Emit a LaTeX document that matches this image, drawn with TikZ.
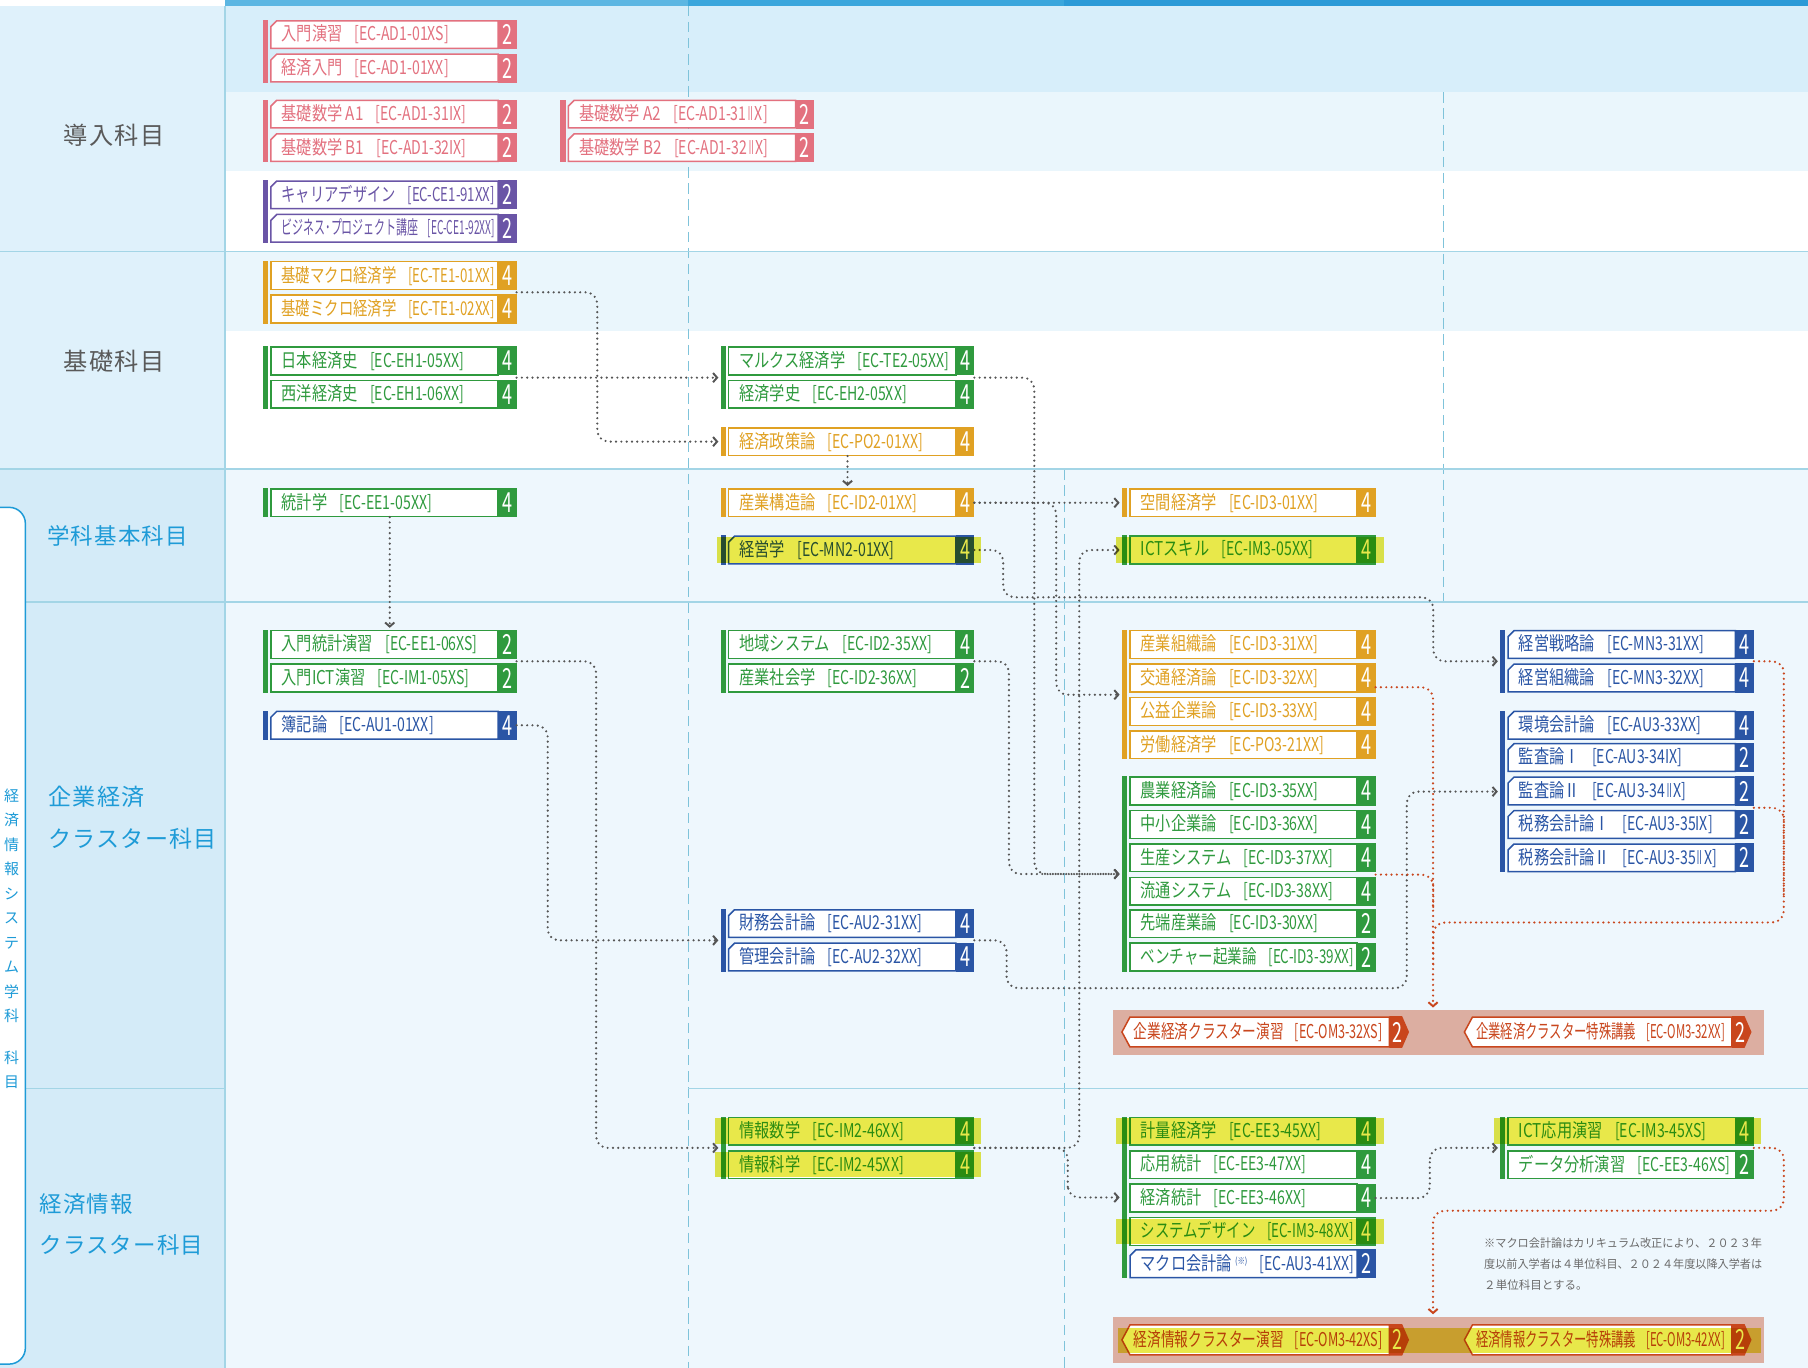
\documentclass[tikz,border=0pt]{standalone}
\usepackage{fontspec}
\usepackage{graphicx}
\usetikzlibrary{arrows.meta,calc}
\setmainfont{Noto Sans CJK JP}
\newfontfamily\labf[FakeStretch=0.8]{Noto Sans CJK JP}
\newfontfamily\codef[FakeStretch=0.74]{Noto Sans CJK JP}
\newfontfamily\numf[FakeStretch=0.65]{Noto Sans CJK JP}
\newfontfamily\sidef[LetterSpace=5]{Noto Sans CJK JP}
\newfontfamily\notef{Noto Sans CJK JP}
\definecolor{cpink}{HTML}{E3717F}
\definecolor{cpurple}{HTML}{6A55A6}
\definecolor{corange}{HTML}{E0A123}
\definecolor{cgreen}{HTML}{2F9A3E}
\definecolor{cblue}{HTML}{2A55A5}
\definecolor{cred}{HTML}{C9461D}
\definecolor{csalmon}{HTML}{DCAEA1}
\definecolor{chl}{HTML}{E8E84A}
\definecolor{cline}{HTML}{A3D5E6}
\definecolor{cdash}{HTML}{7FC3DA}
\definecolor{clabel}{HTML}{1E9BD7}
\definecolor{cgray}{HTML}{5A5A5A}
\definecolor{cnote}{HTML}{6A6A6A}
\definecolor{cconn}{HTML}{555555}
\definecolor{bgA}{HTML}{DFF1FB}
\definecolor{bgB}{HTML}{D4EBF8}
\definecolor{bgC}{HTML}{D7EEFA}
\definecolor{bgD}{HTML}{EAF6FC}
\definecolor{bgE}{HTML}{EEF7FD}
\definecolor{topA}{HTML}{5CB6E2}
\definecolor{topB}{HTML}{3AA6DC}
\definecolor{topC}{HTML}{2B9AD7}
\newsavebox\fitbox
\newcommand\fitt[2]{\sbox\fitbox{#2}\ifdim\wd\fitbox>#1\relax\resizebox{#1}{\height}{\usebox\fitbox}\else\usebox\fitbox\fi}
\newcommand\gp{\hspace{0.65em}\codef}
\newcommand\rtwo{\scalebox{0.6}[1]{Ⅱ}}
\newcommand\sups{\raisebox{5pt}{\fontsize{8}{8}\selectfont(※)}}
\newcommand\crs[7]{%
  \node[inv,anchor=west] (#1) at ({#2-7},#3) {};%
  \ifnum#5=1\relax
    \filldraw[fill=white,draw=#4,line width=1.3pt] ({#2},{#3+12}) -- ({#2},{#3-7}) -- ({#2+5},{#3-12}) -- ({#2+197},{#3-12}) -- ({#2+197},{#3+12}) -- cycle;%
  \else
    \filldraw[fill=white,draw=#4,line width=1.3pt] ({#2},{#3-12}) rectangle ({#2+197},{#3+12});%
  \fi
  \fill[#4] ({#2+197},{#3-12.6}) rectangle ({#2+213},{#3+12.6});%
  \node[anchor=west,text=#4,font=\labf\fontsize{16.5}{16.5}\selectfont,inner sep=0pt] (#1-t) at ({#2+9},#3) {\fitt{185pt}{#6}};%
  \node[text=white,font=\numf\fontsize{24}{24}\selectfont,inner sep=0pt] (#1-n) at ({#2+205},#3) {#7};%
}
\newcommand\gbar[4]{\fill[#4] ({#1-7},{#2-12.6}) rectangle ({#1-2.5},{#3+12.6});}
\newcommand\clu[5]{%
  \node[cinv,anchor=west] (#1) at (#2,#3) {};%
  \filldraw[fill=white,draw=cred,line width=1.3pt] ({#2+7},{#3-13}) -- (#2,#3) -- ({#2+7},{#3+13}) -- ({#2+232},{#3+13}) -- ({#2+232},{#3-13}) -- cycle;%
  \fill[cred] ({#2+232},{#3-13.7}) -- ({#2+243},{#3-13.7}) -- ({#2+249},#3) -- ({#2+243},{#3+13.7}) -- ({#2+232},{#3+13.7}) -- cycle;%
  \node[anchor=west,text=cred,font=\labf\fontsize{16.5}{16.5}\selectfont,inner sep=0pt] (#1-t) at ({#2+10},#3) {\fitt{216pt}{#4}};%
  \node[text=white,font=\numf\fontsize{24}{24}\selectfont,inner sep=0pt] (#1-n) at ({#2+239},#3) {#5};%
}
\begin{document}
\begin{tikzpicture}[x=1pt,y=-1pt,
 inv/.style={minimum width=220pt,minimum height=25pt,inner sep=0pt,outer sep=0pt},
 cinv/.style={minimum width=249pt,minimum height=27pt,inner sep=0pt,outer sep=0pt},
 conn/.style={draw=cconn,line width=2.1pt,dash pattern=on 0pt off 4.6pt,line cap=round,rounded corners=10pt},
 arr/.style={-{Straight Barb[length=3.5pt,width=8pt,line width=1.7pt]},shorten >=2pt},
 rconn/.style={conn,draw=cred},
 gridl/.style={draw=cline,line width=1.5pt},
 dashl/.style={draw=cdash,line width=1pt,dash pattern=on 9pt off 5pt},
]
\useasboundingbox (0,0) rectangle (1568,1186);
% backgrounds
\fill[white] (0,0) rectangle (1568,1186);
\fill[bgA] (0,5) rectangle (195,407);
\fill[bgB] (0,407) rectangle (195,1186);
\fill[bgC] (195,5) rectangle (1568,80);
\fill[bgD] (195,80) rectangle (1568,148);
\fill[bgD] (195,218) rectangle (1568,287);
\fill[bgE] (195,407) rectangle (1568,1186);
\fill[topA] (195,0) rectangle (597,5);
\fill[topB] (597,0) rectangle (923,5);
\fill[topC] (923,0) rectangle (1568,5);
% dashed column guides
\draw[dashl] (597,5) -- (597,1186);
\draw[dashl] (1252,80) -- (1252,522);
\draw[dashl] (923,407) -- (923,1186);
% grid lines
\draw[gridl] (195,5) -- (195,1186);
\draw[gridl] (0,218) -- (1568,218);
\draw[gridl] (0,407) -- (1568,407);
\draw[gridl] (22,522) -- (1568,522);
\draw[gridl] (22,944) -- (195,944);
\draw[gridl] (597,944) -- (1568,944);
% side bracket
\draw[fill=white,draw=clabel,line width=1.3pt,rounded corners=14pt] (-20,440) rectangle (22,1183);
\node[font=\fontsize{13}{21.2}\selectfont,text=clabel,align=center,anchor=north,inner sep=0pt] (vtext) at (10,684) {経\\済\\情\\報\\シ\\ス\\テ\\ム\\学\\科\\[15pt]科\\目};
% row labels
\node[font=\sidef\fontsize{21}{21}\selectfont,text=cgray] (ldonyu) at (99,117) {導入科目};
\node[font=\sidef\fontsize{21}{21}\selectfont,text=cgray] (lkiso) at (99,313) {基礎科目};
\node[font=\sidef\fontsize{19.5}{19.5}\selectfont,text=clabel] (lgaku) at (102,465) {学科基本科目};
\node[anchor=west,align=left,font=\sidef\fontsize{20}{37}\selectfont,text=clabel,inner sep=0pt] (lkigyo) at (42,709) {企業経済\\クラスター科目};
\node[anchor=west,align=left,font=\sidef\fontsize{19.5}{36}\selectfont,text=clabel,inner sep=0pt] (ljoho) at (34,1062) {経済情報\\クラスター科目};
% ---------- column 1
\crs{nyuen}{235}{30}{cpink}{1}{入門演習\gp[EC-AD1-01XS]}{2}
\crs{keinyu}{235}{59}{cpink}{1}{経済入門\gp[EC-AD1-01XX]}{2}
\gbar{235}{30}{59}{cpink}
\crs{suA1}{235}{99}{cpink}{1}{基礎数学 A1\gp[EC-AD1-31IX]}{2}
\crs{suB1}{235}{128}{cpink}{1}{基礎数学 B1\gp[EC-AD1-32IX]}{2}
\gbar{235}{99}{128}{cpink}
\crs{career}{235}{169}{cpurple}{1}{キャリアデザイン\gp[EC-CE1-91XX]}{2}
\crs{biz}{235}{198}{cpurple}{1}{ビジネス･プロジェクト講座\gp[EC-CE1-92XX]}{2}
\gbar{235}{169}{198}{cpurple}
\crs{kmac}{235}{239}{corange}{0}{基礎マクロ経済学\gp[EC-TE1-01XX]}{4}
\crs{kmic}{235}{268}{corange}{0}{基礎ミクロ経済学\gp[EC-TE1-02XX]}{4}
\gbar{235}{239}{268}{corange}
\crs{nihon}{235}{313}{cgreen}{0}{日本経済史\gp[EC-EH1-05XX]}{4}
\crs{seiyo}{235}{342}{cgreen}{0}{西洋経済史\gp[EC-EH1-06XX]}{4}
\gbar{235}{313}{342}{cgreen}
\crs{toukei}{235}{436}{cgreen}{0}{統計学\gp[EC-EE1-05XX]}{4}
\gbar{235}{436}{436}{cgreen}
\crs{nyuto}{235}{559}{cgreen}{0}{入門統計演習\gp[EC-EE1-06XS]}{2}
\crs{nyuict}{235}{588}{cgreen}{0}{入門ICT演習\gp[EC-IM1-05XS]}{2}
\gbar{235}{559}{588}{cgreen}
\crs{boki}{235}{629}{cblue}{1}{簿記論\gp[EC-AU1-01XX]}{4}
\gbar{235}{629}{629}{cblue}
% ---------- column 1b
\crs{suA2}{493}{99}{cpink}{1}{基礎数学 A2\gp[EC-AD1-31\rtwo X]}{2}
\crs{suB2}{493}{128}{cpink}{1}{基礎数学 B2\gp[EC-AD1-32\rtwo X]}{2}
\gbar{493}{99}{128}{cpink}
% ---------- column 2
\crs{marx}{632}{313}{cgreen}{0}{マルクス経済学\gp[EC-TE2-05XX]}{4}
\crs{gakushi}{632}{342}{cgreen}{0}{経済学史\gp[EC-EH2-05XX]}{4}
\gbar{632}{313}{342}{cgreen}
\crs{seisaku}{632}{383}{corange}{0}{経済政策論\gp[EC-PO2-01XX]}{4}
\gbar{632}{383}{383}{corange}
\crs{sanko}{632}{436}{corange}{0}{産業構造論\gp[EC-ID2-01XX]}{4}
\gbar{632}{436}{436}{corange}
\crs{keiei}{632}{477}{cblue}{1}{経営学\gp[EC-MN2-01XX]}{4}
\gbar{632}{477}{477}{cblue}
\crs{chiiki}{632}{559}{cgreen}{0}{地域システム\gp[EC-ID2-35XX]}{4}
\crs{sansha}{632}{588}{cgreen}{0}{産業社会学\gp[EC-ID2-36XX]}{2}
\gbar{632}{559}{588}{cgreen}
\crs{zaimu}{632}{801}{cblue}{1}{財務会計論\gp[EC-AU2-31XX]}{4}
\crs{kanri}{632}{830}{cblue}{1}{管理会計論\gp[EC-AU2-32XX]}{4}
\gbar{632}{801}{830}{cblue}
\crs{johosu}{632}{981}{cgreen}{0}{情報数学\gp[EC-IM2-46XX]}{4}
\crs{johoka}{632}{1010}{cgreen}{0}{情報科学\gp[EC-IM2-45XX]}{4}
\gbar{632}{981}{1010}{cgreen}
% ---------- column 3
\crs{kukan}{980}{436}{corange}{0}{空間経済学\gp[EC-ID3-01XX]}{4}
\gbar{980}{436}{436}{corange}
\crs{ictsk}{980}{477}{cgreen}{0}{ICTスキル\gp[EC-IM3-05XX]}{4}
\gbar{980}{477}{477}{cgreen}
\crs{sosh}{980}{559}{corange}{0}{産業組織論\gp[EC-ID3-31XX]}{4}
\crs{kotsu}{980}{588}{corange}{0}{交通経済論\gp[EC-ID3-32XX]}{4}
\crs{koeki}{980}{617}{corange}{0}{公益企業論\gp[EC-ID3-33XX]}{4}
\crs{rodo}{980}{646}{corange}{0}{労働経済学\gp[EC-PO3-21XX]}{4}
\gbar{980}{559}{646}{corange}
\crs{nogyo}{980}{686}{cgreen}{0}{農業経済論\gp[EC-ID3-35XX]}{4}
\crs{chusho}{980}{715}{cgreen}{0}{中小企業論\gp[EC-ID3-36XX]}{4}
\crs{seisan}{980}{744}{cgreen}{0}{生産システム\gp[EC-ID3-37XX]}{4}
\crs{ryutsu}{980}{773}{cgreen}{0}{流通システム\gp[EC-ID3-38XX]}{4}
\crs{sentan}{980}{801}{cgreen}{0}{先端産業論\gp[EC-ID3-30XX]}{2}
\crs{venture}{980}{830}{cgreen}{0}{ベンチャー起業論\gp[EC-ID3-39XX]}{2}
\gbar{980}{686}{830}{cgreen}
\crs{keiryo}{980}{981}{cgreen}{0}{計量経済学\gp[EC-EE3-45XX]}{4}
\crs{oyo}{980}{1010}{cgreen}{0}{応用統計\gp[EC-EE3-47XX]}{4}
\crs{ktokei}{980}{1039}{cgreen}{0}{経済統計\gp[EC-EE3-46XX]}{4}
\crs{sysd}{980}{1068}{cgreen}{0}{システムデザイン\gp[EC-IM3-48XX]}{4}
\crs{macro}{980}{1096}{cblue}{1}{マクロ会計論\,\sups\gp[EC-AU3-41XX]}{2}
\gbar{980}{981}{1096}{cgreen}
% ---------- column 4
\crs{senryaku}{1308}{559}{cblue}{1}{経営戦略論\gp[EC-MN3-31XX]}{4}
\crs{soshikiron}{1308}{588}{cblue}{1}{経営組織論\gp[EC-MN3-32XX]}{4}
\gbar{1308}{559}{588}{cblue}
\crs{kankyo}{1308}{629}{cblue}{1}{環境会計論\gp[EC-AU3-33XX]}{4}
\crs{kansa1}{1308}{657}{cblue}{1}{監査論Ⅰ\gp[EC-AU3-34IX]}{2}
\crs{kansa2}{1308}{686}{cblue}{1}{監査論Ⅱ\gp[EC-AU3-34\rtwo X]}{2}
\crs{zeimu1}{1308}{715}{cblue}{1}{税務会計論Ⅰ\gp[EC-AU3-35IX]}{2}
\crs{zeimu2}{1308}{744}{cblue}{1}{税務会計論Ⅱ\gp[EC-AU3-35\rtwo X]}{2}
\gbar{1308}{629}{744}{cblue}
\crs{ictapp}{1308}{981}{cgreen}{0}{ICT応用演習\gp[EC-IM3-45XS]}{4}
\crs{data}{1308}{1010}{cgreen}{0}{データ分析演習\gp[EC-EE3-46XS]}{2}
\gbar{1308}{981}{1010}{cgreen}
% ---------- cluster rows
\node[fill=csalmon,minimum width=565pt,minimum height=39pt,inner sep=0pt] (clbg1) at (1247.5,895.5) {};
\clu{kclA}{973}{895}{企業経済クラスター演習\gp[EC-OM3-32XS]}{2}
\clu{kclB}{1270}{895}{企業経済クラスター特殊講義\gp[EC-OM3-32XX]}{2}
\node[fill=csalmon,minimum width=565pt,minimum height=40pt,inner sep=0pt] (clbg2) at (1247.5,1162) {};
\clu{jclA}{973}{1162}{経済情報クラスター演習\gp[EC-OM3-42XS]}{2}
\clu{jclB}{1270}{1162}{経済情報クラスター特殊講義\gp[EC-OM3-42XX]}{2}
\coordinate (cl1top) at ($(clbg1.north west)+(278,0)$);
\coordinate (cl2top) at ($(clbg2.north west)+(278,0)$);
% note
\node[anchor=north west,align=left,font=\notef\fontsize{10}{18.5}\selectfont,text=cnote,inner sep=0pt] (note) at (1287,1073) {\fitt{241pt}{※マクロ会計論はカリキュラム改正により、２０２３年}\\\fitt{241pt}{度以前入学者は４単位科目、２０２４年度以降入学者は}\\ ２単位科目とする。};
% ---------- connectors (gray)
\draw[conn,arr] ($(kmac.east)!.5!(kmic.east)$) -| (518,330) |- (seisaku.west);
\draw[conn,arr] ($(nihon.east)!.5!(seiyo.east)$) -- ($(marx.west)!.5!(gakushi.west)$);
\draw[conn,arr] (seisaku.south) -- (sanko.north);
\draw[conn,arr] (toukei.south) -- (nyuto.north);
\draw[conn,arr] ($(marx.east)!.5!(gakushi.east)$) -| (897,700) |- ($(nogyo.west)!.5!(venture.west)$);
\draw[conn,arr] ($(chiiki.east)!.5!(sansha.east)$) -| (875,700) |- ($(nogyo.west)!.5!(venture.west)$);
\draw[conn,arr] (sanko.east) -- (kukan.west);
\draw[conn,arr] (sanko.east) -| (916,520) |- ($(sosh.west)!.5!(rodo.west)$);
\draw[conn,arr] (keiei.east) -| (870,518) -| (1243,545) |- ($(senryaku.west)!.5!(soshikiron.west)$);
\draw[conn,arr] ($(johosu.east)!.5!(johoka.east)$) -| (936,700) |- (ictsk.west);
\draw[conn,arr] ($(johosu.east)!.5!(johoka.east)$) -| (926,1020) |- ($(keiryo.west)!.5!(macro.west)$);
\draw[conn,arr] ($(nyuto.east)!.5!(nyuict.east)$) -| (517,800) |- ($(johosu.west)!.5!(johoka.west)$);
\draw[conn,arr] (boki.east) -| (475,700) |- ($(zaimu.west)!.5!(kanri.west)$);
\draw[conn,arr] ($(zaimu.east)!.5!(kanri.east)$) -| (873,857) -| (1220,760) |- ($(kankyo.west)!.5!(zeimu2.west)$);
\draw[conn,arr] (ktokei.east) -| (1240,1015) |- ($(ictapp.west)!.5!(data.west)$);
% ---------- connectors (red)
\draw[rconn,arr] ($(kotsu.east)+(0,8)$) -| (cl1top);
\draw[rconn] ($(seisan.east)!.5!(ryutsu.east)$) -| (1243,790);
\draw[rconn] ($(senryaku.east)!.5!(soshikiron.east)$) -| (1547,800) -| (1243,840);
\draw[rconn] ($(kansa2.east)!.5!(zeimu1.east)$) -| (1547,780);
\draw[rconn,arr] ($(ictapp.east)!.5!(data.east)$) -| (1547,1050) -| (cl2top);
% ---------- highlights
\begin{scope}[blend mode=multiply]
\fill[chl] (622,466) rectangle (851,488);
\fill[chl] (968,466) rectangle (1200,488);
\fill[chl] (620,970) rectangle (851,992);
\fill[chl] (620,999) rectangle (851,1021);
\fill[chl] (968,970) rectangle (1200,992);
\fill[chl] (968,1057) rectangle (1200,1079);
\fill[chl] (1296,970) rectangle (1527,992);
\fill[chl] (970,1152) rectangle (1527,1173);
\end{scope}
\end{tikzpicture}
\end{document}
